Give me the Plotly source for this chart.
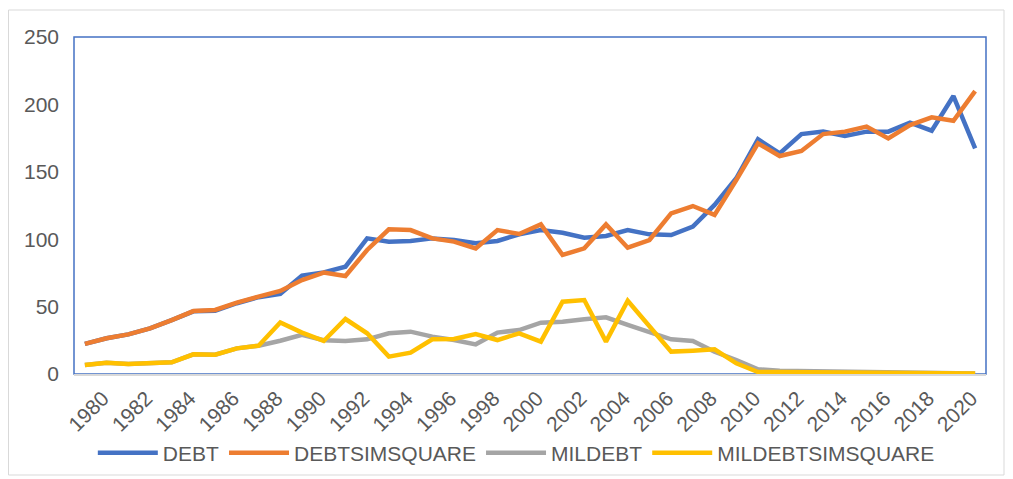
import plotly.graph_objects as go

years = list(range(1980, 2022))

debt = [22.3, 26.5, 29.4, 33.9, 40.0, 46.5, 47.0, 52.5, 57.0, 59.5,
        73.0, 75.4, 79.6, 100.6, 98.2, 98.7, 100.6, 99.4, 97.0, 98.7,
        103.6, 106.8, 104.8, 101.1, 102.4, 106.8, 103.6, 103.1, 109.3, 125.4,
        145.2, 174.1, 163.7, 178.0, 179.8, 176.6, 179.8, 179.8, 186.5, 180.5,
        206.2, 167.4]
debtsimsquare = [22.3, 26.5, 29.4, 33.9, 40.0, 46.7, 47.5, 52.9, 57.4, 61.6,
                 69.7, 75.2, 72.7, 92.0, 107.3, 106.8, 100.6, 98.2, 93.2, 106.8,
                 103.9, 111.0, 88.3, 93.2, 111.0, 93.7, 99.4, 119.2, 124.6, 118.0,
                 143.9, 171.1, 161.7, 165.4, 178.0, 179.8, 183.5, 174.8, 184.7, 190.4,
                 187.9, 209.9]
mildebt = [6.7, 8.4, 7.4, 7.9, 8.7, 14.6, 14.3, 19.0, 21.0, 24.7,
           29.0, 25.0, 24.5, 25.7, 30.2, 31.4, 27.7, 25.2, 22.0, 30.7,
           32.6, 38.1, 38.8, 40.6, 42.0, 36.4, 31.4, 25.7, 24.5, 16.5,
           10.4, 3.5, 2.4, 2.2, 2.0, 1.8, 1.4, 1.0, 0.8, 0.6,
           0.5, 0.4]
mildebtsimsquare = [6.7, 8.4, 7.4, 7.9, 8.7, 14.6, 14.3, 19.0, 21.0, 38.3,
                    30.7, 24.5, 40.8, 30.2, 12.9, 15.8, 25.7, 26.0, 29.7, 25.2,
                    30.2, 24.0, 53.6, 54.9, 24.0, 54.4, 35.1, 16.6, 17.3, 18.3,
                    7.9, 1.5, 1.5, 1.3, 1.0, 1.2, 0.9, 0.6, 0.5, 0.5,
                    0.5, 0.4]

series = [
    ("DEBT", debt, "#4472C4"),
    ("DEBTSIMSQUARE", debtsimsquare, "#ED7D31"),
    ("MILDEBT", mildebt, "#A5A5A5"),
    ("MILDEBTSIMSQUARE", mildebtsimsquare, "#FFC000"),
]

fig = go.Figure()
for name, vals, col in series:
    fig.add_trace(go.Scatter(x=years, y=vals, name=name, mode="lines",
                             line=dict(color=col, width=4.5)))

font_fam = "Liberation Sans, Arial, sans-serif"
txt_col = "#595959"

W, H = 997, 471
L, R, T, B = 66, 19, 29, 105
PW, PH = W - L - R, H - T - B

fig.update_layout(
    width=W, height=H,
    margin=dict(l=L, r=R, t=T, b=B, autoexpand=False),
    paper_bgcolor="white", plot_bgcolor="white",
    font=dict(family=font_fam, size=21, color=txt_col),
    showlegend=True,
    legend=dict(orientation="h", x=0.485, xanchor="center", y=(T + PH - 445) / PH,
                yanchor="middle", itemwidth=60,
                font=dict(size=21, color=txt_col), bgcolor="rgba(0,0,0,0)"),
    xaxis=dict(range=[1979.5, 2021.5], tickmode="array",
               tickvals=list(range(1980, 2021, 2)),
               ticktext=[str(y) for y in range(1980, 2021, 2)],
               tickangle=-45, showgrid=False, zeroline=False, automargin=False,
               showline=True, linecolor="#D9D9D9", linewidth=1.5,
               ticks="", ticklabelshift=18, ticklabelstandoff=2,
               tickfont=dict(size=21, color=txt_col)),
    yaxis=dict(range=[0, 250], tickvals=[0, 50, 100, 150, 200, 250],
               showgrid=False, zeroline=False, showline=False, ticks="", automargin=False,
               ticklabelstandoff=14, tickfont=dict(size=21, color=txt_col)),
    shapes=[
        dict(type="rect", xref="paper", yref="paper", x0=0, x1=1, y0=0, y1=1,
             line=dict(color="#4472C4", width=1.5), layer="below"),
        dict(type="rect", xref="paper", yref="paper",
             x0=(0.5 - L) / PW, x1=(W - 1 - L) / PW,
             y0=(T + PH - (H - 4)) / PH, y1=(T + PH - 2) / PH,
             line=dict(color="#D9D9D9", width=1), layer="below"),
    ],
)

fig.write_html("out.html")
